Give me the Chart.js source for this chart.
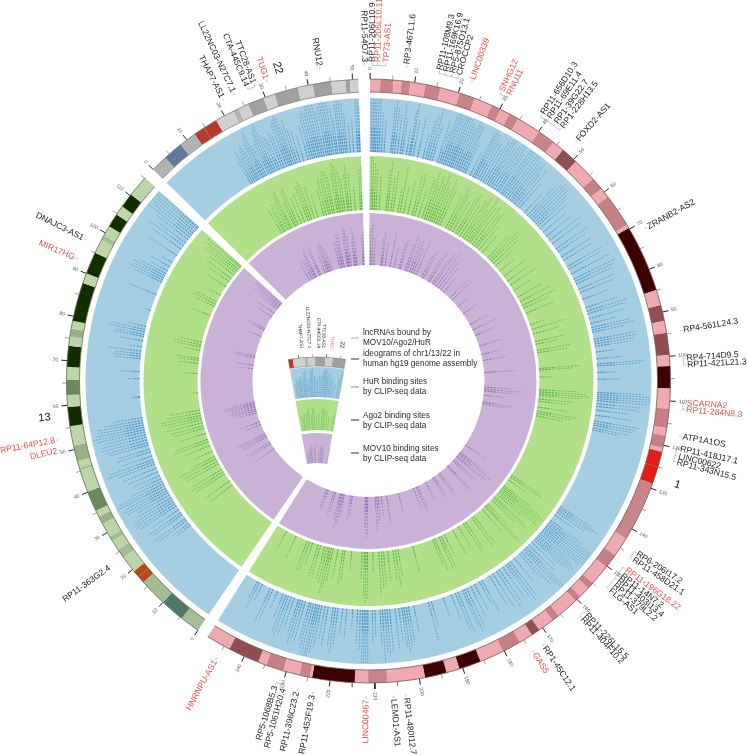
<!DOCTYPE html>
<html>
<head>
<meta charset="utf-8">
<title>lncRNA binding sites circos</title>
<script src="https://cdn.jsdelivr.net/npm/chart.js@4"></script>
<style>
    body { margin: 0; background: #fff; }
    #wrap { position: relative; width: 747px; height: 755px; overflow: hidden; }
    #wrap canvas { position: absolute; left: 0; top: 0; }
</style>
</head>
<body>
<div id="wrap">
    <canvas id="ringChart" width="747" height="755"></canvas>
    <canvas id="miniChart" width="747" height="755"></canvas>
    <canvas id="siteChart" width="747" height="755"></canvas>
</div>
<script>
// Chromosome lengths in Mb
const chrLengths = [249.25, 115.17, 51.3];

// Ideogram bands: band end in Mb and stain (n, 25, 50, 75, 100, a = acen, v = gvar, s = stalk)
const chr1Ends = [2.3,5.3,7.1,9.1,12.5,15.9,20.3,23.9,28,30.2,32.4,34.6,40.1,44.1,46.8,50.7,56.1,59,61.3,68.9,69.7,84.9,88.4,92,94.7,99.7,102.2,107.2,111.8,116.1,117.8,120.6,121.5,125,128.9,142.6,147,150.3,155,156.5,159.1,160.5,165.5,167.2,170.9,172.9,176,180.3,185.8,190.8,193.8,198.7,207.2,211.5,214.5,224.1,224.6,227,230.7,234.7,236.6,243.7,249.25];
const chr1Stains = ['n','25','n','25','n','25','n','25','n','25','n','25','n','25','n','75','n','50','n','50','n','100','n','75','n','75','n','100','n','50','n','50','n','a','a','v','n','50','n','50','n','50','n','50','n','75','n','50','n','100','n','100','n','25','n','100','n','25','n','50','n','75','n'];
const chr13Ends = [4.5,10,16.3,17.9,19.5,23.3,25.5,27.8,28.9,32.2,34,35.5,40.1,45.2,45.8,47.3,50.9,55.3,59.6,62.3,65.7,68.6,73.3,75.4,77.2,79,87.7,90,95,98.2,99.3,101.7,104.8,107,110.3,115.17];
const chr13Stains = ['v','s','v','a','a','n','25','n','25','n','50','n','75','n','25','n','50','n','100','n','75','n','100','n','50','n','100','n','100','n','25','n','100','n','100','n'];
const chr22Ends = [3.8,8.3,12.2,14.7,17.9,22.2,23.5,25.9,29.6,32.2,37.6,41,45.2,48.4,49.4,51.3];
const chr22Stains = ['v','s','v','a','a','n','25','n','50','n','50','n','50','n','50','n'];

// Binding sites as [position in Mb, stack height as a share of the track]
const hurChr1 = [[0.4,.95],[0.9,.95],[1.3,.9],[1.7,.95],[2.2,.8],[2.7,.9],[3.4,.6],[4.2,.5],[6.2,.7],[6.7,.85],[7.3,.7],[8.1,.6],[9,.75],[9.6,.55],[10.8,.4],[11.6,.7],[12,.8],[12.8,.55],[14.2,.6],[15.8,.4],[16.6,.6],[17.2,.7],[17.9,.8],[18.6,.55],[20.2,.65],[20.9,.5],[21.5,.8],[22.1,.9],[22.6,.85],[23.2,.8],[23.8,.85],[24.3,.9],[24.8,.8],[25.4,.85],[26,.75],[26.6,.7],[27.2,.85],[27.8,.8],[28.4,.75],[29,.5],[30.6,.4],[31.5,.75],[32,.8],[32.6,.75],[33.3,.7],[34,.65],[34.8,.6],[35.5,.75],[36.2,.8],[36.8,.85],[37.5,.7],[38.2,.75],[38.9,.8],[39.6,.85],[40.2,.7],[41,.8],[41.6,.9],[42.2,.8],[43,.85],[43.7,.8],[44.4,.75],[45,.7],[45.7,.75],[46.3,.6],[47.1,.7],[48,.5],[50,.4],[51.2,.6],[52,.7],[52.7,.75],[53.4,.7],[54.1,.75],[54.8,.65],[55.5,.6],[56.5,.55],[58,.45],[59.5,.5],[61,.6],[62.3,.55],[64.2,.6],[65.2,.5],[67,.55],[68.2,.5],[70.3,.6],[71.2,.55],[72.8,.65],[74.5,.7],[75.3,.65],[76.1,.6],[77.8,.6],[78.9,.55],[81,.4],[83.6,.5],[84.7,.65],[85.5,.6],[87,.55],[88.5,.4],[89.7,.6],[90.4,.65],[91.1,.5],[93.2,.65],[93.9,.65],[94.6,.6],[95.3,.55],[97,.3],[99,.4],[100.5,.7],[101.1,.65],[103,.3],[105,.35],[108.9,.7],[109.5,.8],[110.1,.85],[110.7,.8],[111.3,.75],[112.2,.7],[113,.65],[114.1,.5],[115.6,.55],[117.3,.7],[118,.65],[118.6,.6],[119.4,.55],[120,.4],[144.6,.6],[145.2,.7],[145.8,.6],[146.5,.5],[147.5,.35],[149.5,.6],[150.2,.8],[150.8,.85],[151.4,.9],[152,.85],[152.6,.8],[153.2,.85],[153.8,.75],[154.5,.6],[155.2,.7],[155.8,.75],[156.4,.7],[157,.6],[158,.5],[159.2,.55],[160.1,.8],[160.7,.8],[161.3,.7],[162.2,.65],[163,.5],[165,.45],[166.6,.65],[167.4,.7],[168.1,.6],[169.3,.55],[170.6,.6],[171.5,.65],[172.8,.6],[174,.5],[176.6,.55],[177.4,.4],[179,.45],[180.3,.5],[181.6,.65],[182.4,.7],[183,.6],[184.4,.65],[185.2,.6],[186.5,.4],[189,.3],[192.7,.4],[193.6,.6],[198,.4],[199.6,.55],[200.3,.6],[201,.7],[201.6,.6],[202.5,.5],[203.6,.6],[205.2,.65],[206,.7],[206.6,.65],[207.3,.8],[208,.55],[209.5,.4],[210.3,.5],[211.6,.8],[212.1,.9],[212.6,.85],[213.1,.85],[213.8,.6],[214.6,.5],[216,.3],[217.8,.45],[219,.4],[220.4,.6],[221.1,.7],[221.8,.6],[223.3,.6],[224.2,.5],[225.2,.65],[225.9,.75],[226.5,.8],[227,.85],[227.7,.75],[228.4,.7],[229,.6],[230.2,.65],[231,.6],[231.7,.7],[232.3,.55],[233.6,.5],[234.6,.6],[235.5,.65],[236.2,.6],[237.1,.4],[238.9,.3],[240.4,.5],[241.2,.55],[243.8,.3],[244.8,.45],[245.5,.3]];
const hurChr13 = [[19.6,.3],[20.3,.3],[21.4,.55],[22.1,.6],[23.5,.55],[24.2,.6],[25.3,.5],[26.6,.65],[27.3,.7],[28,.7],[28.7,.65],[29.5,.6],[30.4,.55],[31.2,.7],[31.9,.75],[32.6,.7],[33.4,.8],[34.1,.75],[34.9,.55],[35.8,.4],[36.8,.45],[38,.5],[39.2,.55],[40.5,.6],[41.2,.75],[41.9,.7],[43,.5],[44.3,.55],[45.1,.5],[46.4,.6],[47.1,.65],[47.9,.7],[48.7,.7],[49.5,.65],[50.3,.75],[51,.8],[51.7,.75],[52.4,.7],[53.1,.7],[53.8,.6],[54.6,.45],[60.6,.15],[60.9,.1],[66.1,.2],[68.2,.3],[72,.4],[72.7,.45],[73.4,.4],[74.2,.5],[75.5,.2],[77.3,.35],[78.6,.5],[79.2,.45],[80,.55],[80.7,.5],[81.6,.3],[86.5,.1],[91.5,.45],[95.5,.45],[96.2,.55],[96.9,.5],[97.6,.55],[98.3,.45],[99.2,.3],[100.6,.35],[102,.2],[104.5,.5],[106.8,.55],[108,.65],[109,.5],[110.2,.6],[111.1,.8],[111.9,.75],[112.6,.85],[113.3,.8],[114,.85],[114.6,.9],[115,.7]];
const hurChr22 = [[17.4,.4],[18,.55],[18.6,.45],[19.2,.55],[19.7,.6],[20.2,.5],[20.9,.6],[21.4,.7],[21.9,.75],[22.5,.5],[23.3,.55],[23.9,.7],[24.4,.75],[24.9,.8],[25.5,.6],[26.2,.55],[26.8,.5],[27.6,.6],[28.2,.55],[29,.7],[29.6,.75],[30.1,.8],[30.6,.75],[31.1,.6],[31.8,.7],[32.4,.55],[33.2,.5],[34.3,.4],[35.6,.55],[36.4,.7],[37,.75],[37.6,.7],[38.1,.8],[38.7,.85],[39.2,.8],[39.8,.85],[40.4,.7],[41.1,.75],[41.7,.9],[42.2,.95],[42.7,.9],[43.3,.8],[44,.7],[44.5,.55],[45.2,.75],[45.7,.9],[46.2,.8],[46.8,.75],[47.3,.6],[48.2,.45],[49.2,.5],[50.3,.8],[50.8,.85],[51.1,.7]];

const ago2Chr1 = [[0.6,.8],[1.2,.85],[1.9,.7],[2.6,.6],[3.8,.5],[6.5,.6],[7.2,.75],[8.4,.5],[9.3,.6],[11.2,.35],[12.1,.7],[13.5,.4],[15.2,.5],[17,.6],[18,.65],[19.5,.4],[21,.6],[22,.75],[22.8,.55],[23.6,.7],[24.4,.6],[25.1,.75],[25.9,.65],[26.8,.55],[27.7,.75],[28.6,.6],[31.2,.55],[32.2,.7],[33,.6],[34.2,.5],[35.6,.6],[36.5,.7],[37.6,.55],[38.8,.65],[39.7,.75],[40.6,.55],[41.5,.8],[42.4,.65],[43.5,.7],[44.6,.6],[45.5,.65],[46.8,.45],[48.5,.35],[51.5,.45],[52.6,.6],[53.5,.55],[54.6,.5],[56,.35],[58.5,.3],[61.2,.4],[63.5,.35],[65.5,.45],[68,.3],[71,.4],[73,.5],[74.8,.55],[76,.4],[78.2,.45],[83,.25],[84.9,.5],[86.8,.4],[89.9,.45],[91,.35],[93.4,.5],[94.4,.45],[100.6,.6],[101.2,.5],[104,.2],[109,.55],[109.8,.7],[110.5,.75],[111.2,.6],[112.6,.5],[113.5,.45],[115.8,.45],[117.5,.6],[118.3,.5],[119.3,.4],[144.8,.5],[145.6,.55],[147,.3],[149.8,.5],[150.5,.7],[151.2,.8],[151.8,.75],[152.5,.7],[153.3,.75],[154.2,.5],[155.5,.6],[156.2,.65],[157.2,.45],[159.5,.4],[160.4,.7],[161,.65],[162.5,.45],[166.8,.5],[167.8,.55],[170.8,.45],[171.8,.5],[174.2,.35],[176.8,.4],[180.5,.35],[181.9,.5],[182.8,.55],[184.6,.5],[185.5,.4],[193.8,.4],[199.8,.4],[200.8,.55],[201.8,.45],[203.9,.45],[205.5,.5],[206.4,.55],[207.4,.65],[209.7,.3],[211.8,.7],[212.4,.75],[213,.65],[214,.4],[218,.3],[220.7,.45],[221.5,.5],[223.5,.45],[225.4,.5],[226.2,.6],[226.9,.7],[227.8,.55],[228.8,.5],[230.5,.45],[231.5,.5],[233.8,.35],[235,.45],[236,.45],[240.8,.35],[245,.3]];
const ago2Chr13 = [[21.5,.4],[23.4,.45],[26.8,.5],[27.8,.55],[28.9,.5],[31.4,.55],[32.5,.55],[33.6,.6],[34.6,.4],[37,.3],[39.4,.4],[41,.55],[42,.5],[44.5,.4],[46.6,.45],[47.6,.5],[48.8,.55],[50,.5],[50.9,.6],[51.8,.6],[52.8,.5],[53.9,.45],[60.8,.1],[68.4,.2],[72.4,.3],[73.6,.3],[74.4,.35],[77.6,.25],[78.9,.4],[79.8,.4],[80.8,.35],[91.8,.3],[95.8,.3],[96.8,.4],[97.8,.35],[100.8,.2],[104.8,.35],[107.2,.4],[108.6,.45],[110.4,.45],[111.5,.6],[112.4,.55],[113.2,.65],[114.2,.65],[114.8,.5]];
const ago2Chr22 = [[17.8,.4],[18.8,.35],[19.5,.45],[20.6,.45],[21.5,.55],[22.2,.6],[23.5,.4],[24.2,.55],[25,.6],[26.4,.4],[27.8,.45],[29.2,.55],[30,.6],[30.8,.55],[32,.5],[33.4,.35],[35.8,.4],[36.8,.55],[37.8,.55],[38.5,.65],[39.4,.65],[40.1,.55],[41.3,.6],[42,.75],[42.6,.7],[43.5,.6],[44.3,.5],[45.4,.55],[46,.7],[46.9,.55],[48.4,.35],[50.4,.6],[51,.65]];

const mov10Chr1 = [[0.7,.55],[1.6,.6],[2.8,.4],[6.8,.4],[7.5,.5],[9.2,.35],[12.2,.5],[14.5,.3],[17.4,.4],[18.3,.45],[21.2,.4],[22.2,.55],[23.8,.5],[25,.5],[26.2,.4],[27.9,.55],[31.6,.4],[32.8,.45],[35.8,.4],[36.8,.5],[38.9,.45],[40,.55],[41.6,.6],[43.2,.5],[44.8,.4],[47,.3],[52,.35],[53.7,.4],[58.8,.2],[64,.25],[71.4,.3],[74.9,.4],[78.4,.3],[85,.35],[90,.3],[93.6,.35],[100.7,.45],[109.2,.4],[110.4,.55],[111.4,.45],[113.7,.3],[117.6,.45],[118.7,.35],[145,.35],[149.9,.35],[150.7,.5],[151.5,.6],[152.7,.55],[153.5,.5],[155.6,.45],[156.6,.4],[160.5,.5],[161.2,.45],[166.9,.35],[168,.4],[171,.3],[172,.35],[176.9,.3],[182,.35],[183,.4],[184.8,.35],[193.9,.3],[200.9,.4],[204,.3],[205.7,.35],[206.6,.4],[207.5,.5],[211.9,.55],[212.6,.6],[213.2,.45],[220.8,.3],[221.7,.35],[225.5,.35],[226.4,.45],[227.1,.5],[228,.4],[230.7,.3],[231.7,.35],[235.2,.3],[236.2,.3]];
const mov10Chr13 = [[23.6,.3],[27,.35],[28.1,.4],[31.6,.4],[32.7,.4],[33.8,.45],[39.6,.25],[41.2,.35],[46.8,.3],[48,.35],[49,.4],[50.2,.35],[51.1,.45],[52,.45],[53,.35],[72.6,.2],[74.6,.25],[79,.3],[80,.3],[91.9,.2],[96,.2],[97,.3],[104.9,.25],[107.4,.3],[110.5,.3],[111.6,.45],[112.6,.4],[113.4,.5],[114.3,.5]];
const mov10Chr22 = [[18,.3],[19.6,.3],[20.7,.3],[21.6,.4],[22.3,.45],[24.3,.4],[25.1,.45],[27.9,.3],[29.3,.4],[30.2,.45],[31,.4],[32.1,.35],[36.9,.4],[37.9,.4],[38.6,.5],[39.5,.5],[41.4,.45],[42.1,.6],[42.7,.55],[43.6,.45],[45.5,.4],[46.1,.55],[47,.4],[50.5,.45],[51,.5]];

// lncRNA labels and the Mb position each one is pinned to
const chr1Names = ['RP11-206L10.9','RP11-206L10.11','TP73-AS1','RP3-467L1.6','RP11-108M9.3','RP11-169K16.9','RP5-875O13.1','CROCCP2','LINC00339','SNHG12','RNU11','RP11-656D10.3','RP11-69E11.4','RP1-39G22.7','RP1-228H13.5','FOXD2-AS1','ZRANB2-AS2','RP4-561L24.3','RP4-714D9.5','RP11-421L21.3','SCARNA2','RP11-284N8.3','ATP1A1OS','RP11-418J17.1','LINC00622','RP11-343N15.5','RP6-206I17.2','RP11-458D21.1','RP11-196G18.22','RP11-14N7.2','RP11-403I13.4','RP11-379L2.2','FLG-AS1','RP11-226L15.5','RP11-404F10.2','RP1-45C12.1','GAS5','RP11-480I12.7','LEMD1-AS1','LINC00467','RP11-452F19.3','RP11-396C23.2','RP5-1061H20.4','RP5-1068B5.3','HNRNPU-AS1'];
const chr1NamePos = [0.4,1.6,3.4,7.8,14.8,16.2,17.6,19.1,22.1,28.7,30.4,38.6,40.2,42,43.6,47.9,71.6,94.7,100.7,102.1,110.2,111.6,117.4,120,121.6,122.9,144,145.5,148.1,149.6,150.9,152.2,153.6,160.8,162,172,174.5,203.4,206.1,211.9,223.3,226.7,229.6,231.4,245.2];
const chr13Names = ['RP11-363G2.4','DLEU2','RP11-64P12.8','MIR17HG','DNAJC3-AS1'];
const chr13NamePos = [23.4,50.5,52.8,92.2,96.7];
const chr22Names = ['THAP7-AS1','LL22NC03-N27C7.1','CTA-445C9.14','TTC28-AS1','TUG1','RNU12','RP11-54O7.3'];
const chr22NamePos = [21.4,24,27.1,28.7,31.5,43.1,52.7];
const redNames = ['RP11-206L10.11','TP73-AS1','LINC00339','SNHG12','RNU11','SCARNA2','RP11-284N8.3','RP11-196G18.22','GAS5','LINC00467','HNRNPU-AS1','DLEU2','RP11-64P12.8','MIR17HG','TUG1'];

const chrTitles = ['1', '13', '22'];
const chrTitlePos = [127.4, 57.8, 34.5];

const legendLines = [
    ['lncRNAs bound by', 'MOV10/Ago2/HuR'],
    ['ideograms of chr1/13/22 in', 'human hg19 genome assembly'],
    ['HuR binding sites', 'by CLIP-seq data'],
    ['Ago2 binding sites', 'by CLIP-seq data'],
    ['MOV10 binding sites', 'by CLIP-seq data']
];

// Layout
const WIDTH = 747, HEIGHT = 755;
const CX = 368.5, CY = 381;
const GAP_MB = 2.6, ROTATION = 0.3;
const TOTAL_MB = chrLengths[0] + chrLengths[1] + chrLengths[2] + 3 * GAP_MB;
const DEG_PER_MB = 360 / TOTAL_MB;
const TRACKS = [[229, 283], [171, 225], [116, 168]];
const STRETCH = [1.22, 1.25, 1.3];
const INNER_SHARE = 0.4;
const MINI_CX = -51.5, MINI_CY = -138;
const MINI_FROM = 16.2, MINI_TO = 37, MINI_ROT = -10.3, MINI_DEG = 0.99;
const MINI_TRACKS = [[122, 152], [89, 120], [56, 86]];

const STAINS = [
    { n: '#eeaab0', '25': '#c98489', '50': '#c78186', '75': '#8f4e52', '100': '#3c0000', a: '#e01e16', v: '#c8858a', s: '#c8858a' },
    { n: '#bdd6a8', '25': '#a3bc8f', '50': '#98b186', '75': '#6a8a5a', '100': '#122e00', a: '#b84a14', v: '#a5bd92', s: '#4d7a6a' },
    { n: '#d0d0d0', '25': '#b4b4b4', '50': '#a0a0a0', '75': '#888888', '100': '#555555', a: '#b83a2c', v: '#b2b2b2', s: '#60789a' }
];
const OUTLINES = ['#7d5558', '#5e6e50', '#7c7c7c'];

// Angle in degrees, clockwise from the top, for a position on a chromosome
function chrAngle(chr, pos) {
    let offset = 0;
    for (let i = 0; i < chr; i++) offset += chrLengths[i] + GAP_MB;
    return ROTATION + (offset + pos) * DEG_PER_MB;
}

function miniAngle(pos) {
    return MINI_ROT + (pos - MINI_FROM) * MINI_DEG;
}

// Data space has its origin at the circle centre with y pointing up
function polar(angle, r, cx = 0, cy = 0) {
    const a = angle * Math.PI / 180;
    return { x: cx + r * Math.sin(a), y: cy + r * Math.cos(a) };
}

// Band lengths and colours for the whole ideogram ring
function buildIdeogram() {
    const allEnds = [chr1Ends, chr13Ends, chr22Ends];
    const allStains = [chr1Stains, chr13Stains, chr22Stains];
    const data = [], colors = [];
    allEnds.forEach((ends, chr) => {
        ends.forEach((end, i) => {
            data.push(end - (i ? ends[i - 1] : 0));
            colors.push(STAINS[chr][allStains[chr][i]]);
        });
        data.push(GAP_MB);
        colors.push('transparent');
    });
    return { data: data, backgroundColor: colors, weight: 13 };
}

function buildTrack(color, weight) {
    const data = [], colors = [];
    chrLengths.forEach(len => {
        data.push(len, GAP_MB);
        colors.push(color, 'transparent');
    });
    return { data: data, backgroundColor: colors, weight: weight };
}

function spacer(weight) {
    return { data: [1], backgroundColor: ['transparent'], weight: weight };
}

// Outer rings: ideogram and the three coloured track backgrounds
new Chart(document.getElementById('ringChart'), {
    type: 'doughnut',
    data: {
        datasets: [
            buildIdeogram(),
            spacer(6),
            buildTrack('#a6cee3', 54),
            spacer(4),
            buildTrack('#b2df8a', 54),
            spacer(3),
            buildTrack('#cab2d6', 52)
        ]
    },
    options: {
        responsive: false,
        animation: false,
        events: [],
        rotation: ROTATION,
        cutout: (116 / 302 * 100) + '%',
        borderWidth: 0,
        layout: { padding: { left: CX - 302, top: CY - 302, right: WIDTH - CX - 302, bottom: HEIGHT - CY - 302 } },
        plugins: { legend: { display: false }, tooltip: { enabled: false } }
    }
});

// The small key in the middle is a zoomed wedge of chr22
function buildMiniIdeogram() {
    const data = [], colors = [];
    chr22Ends.forEach((end, i) => {
        const start = Math.max(i ? chr22Ends[i - 1] : 0, MINI_FROM);
        const stop = Math.min(end, MINI_TO);
        if (stop > start) {
            data.push((stop - start) * MINI_DEG);
            colors.push(STAINS[2][chr22Stains[i]]);
        }
    });
    data.push(360 - (MINI_TO - MINI_FROM) * MINI_DEG);
    colors.push('transparent');
    return { data: data, backgroundColor: colors, weight: 9 };
}

function buildMiniTrack(color, weight) {
    const span = (MINI_TO - MINI_FROM) * MINI_DEG;
    return { data: [span, 360 - span], backgroundColor: [color, 'transparent'], weight: weight };
}

new Chart(document.getElementById('miniChart'), {
    type: 'doughnut',
    data: {
        datasets: [
            buildMiniIdeogram(),
            spacer(1),
            buildMiniTrack('#a6cee3', 30),
            spacer(2),
            buildMiniTrack('#b2df8a', 31),
            spacer(3),
            buildMiniTrack('#cab2d6', 30)
        ]
    },
    options: {
        responsive: false,
        animation: false,
        events: [],
        rotation: MINI_ROT,
        cutout: (56 / 162 * 100) + '%',
        borderWidth: 0,
        layout: { padding: { left: CX + MINI_CX - 162, top: CY - MINI_CY - 162, right: WIDTH - (CX + MINI_CX) - 162, bottom: HEIGHT - (CY - MINI_CY) - 162 } },
        plugins: { legend: { display: false }, tooltip: { enabled: false } }
    }
});

// Radial dashed stacks for one track, each site broken off from the next by a null point
function sitePoints(lists, track, stretch) {
    const points = [];
    lists.forEach((sites, chr) => {
        sites.forEach(([pos, h]) => {
            const angle = chrAngle(chr, pos);
            const share = Math.min(h * stretch, 0.98);
            points.push(polar(angle, track[0]), polar(angle, track[0] + share * (track[1] - track[0])), { x: null, y: null });
        });
    });
    return points;
}

function miniPoints(sites, track, stretch) {
    const points = [];
    sites.filter(s => s[0] >= MINI_FROM && s[0] <= MINI_TO).forEach(([pos, h]) => {
        const angle = miniAngle(pos);
        const share = Math.min(h * stretch, 0.98);
        points.push(polar(angle, track[0], MINI_CX, MINI_CY), polar(angle, track[0] + share * (track[1] - track[0]), MINI_CX, MINI_CY), { x: null, y: null });
    });
    return points;
}

function tickPoints(step, offset, inner, outer) {
    const points = [];
    chrLengths.forEach((len, chr) => {
        for (let pos = offset; pos <= len; pos += step) {
            const angle = chrAngle(chr, pos);
            points.push(polar(angle, inner), polar(angle, outer), { x: null, y: null });
        }
    });
    return points;
}

function lineSet(points, color, width, dash) {
    return {
        data: points,
        showLine: true,
        spanGaps: false,
        pointRadius: 0,
        borderColor: color,
        borderWidth: width,
        borderDash: dash || [],
        borderCapStyle: 'butt',
        clip: false
    };
}

const DASH = [2.1, 1.1], MINI_DASH = [1.2, 0.6];
const BLUE = 'rgba(31,120,180,0.5)', GREEN = 'rgba(51,160,44,0.5)', PURPLE = 'rgba(106,61,154,0.42)';

const hurSites = [hurChr1, hurChr13, hurChr22];
const ago2Sites = [ago2Chr1, ago2Chr13, ago2Chr22];
const mov10Sites = [mov10Chr1, mov10Chr13, mov10Chr22];

const siteSets = [
    lineSet(sitePoints(hurSites, TRACKS[0], STRETCH[0]), BLUE, 0.9, DASH),
    lineSet(sitePoints(hurSites, TRACKS[0], STRETCH[0] * INNER_SHARE), BLUE, 0.9, DASH),
    lineSet(sitePoints(ago2Sites, TRACKS[1], STRETCH[1]), GREEN, 0.9, DASH),
    lineSet(sitePoints(ago2Sites, TRACKS[1], STRETCH[1] * INNER_SHARE), GREEN, 0.9, DASH),
    lineSet(sitePoints(mov10Sites, TRACKS[2], STRETCH[2]), PURPLE, 0.8, DASH),
    lineSet(sitePoints(mov10Sites, TRACKS[2], STRETCH[2] * INNER_SHARE), PURPLE, 0.8, DASH),
    lineSet(miniPoints(hurChr22, MINI_TRACKS[0], STRETCH[0]), BLUE, 0.8, MINI_DASH),
    lineSet(miniPoints(ago2Chr22, MINI_TRACKS[1], STRETCH[1]), GREEN, 0.8, MINI_DASH),
    lineSet(miniPoints(mov10Chr22, MINI_TRACKS[2], STRETCH[2]), PURPLE, 0.7, MINI_DASH),
    lineSet(tickPoints(10, 0, 302, 308), '#222', 1),
    lineSet(tickPoints(10, 5, 302, 306.5), '#777', 0.7)
];

// Text written along a radius, reading outwards on the right half and inwards on the left
function radialText(ctx, text, angle, r, cx, cy, font, color, align) {
    const a = angle * Math.PI / 180;
    const right = ((angle % 360) + 360) % 360 < 180;
    ctx.save();
    ctx.translate(cx + r * Math.sin(a), cy - r * Math.cos(a));
    ctx.rotate(right ? a - Math.PI / 2 : a + Math.PI / 2);
    ctx.font = font;
    ctx.fillStyle = color;
    ctx.textBaseline = 'middle';
    ctx.textAlign = align || (right ? 'left' : 'right');
    ctx.fillText(text, 0, 0);
    ctx.restore();
}

function drawNames(ctx, cx, cy, names, positions, chr) {
    let prev = null;
    names.forEach((name, i) => {
        const angle = chrAngle(chr, positions[i]);
        const a = angle * Math.PI / 180;
        const color = redNames.includes(name) ? '#ea4f45' : '#1c1c1c';
        radialText(ctx, name, angle, 319, cx, cy, '8.6px "Liberation Sans"', color);
        // little connector in front of the name, joined up inside a tight group
        ctx.strokeStyle = '#8a8a8a';
        ctx.lineWidth = 0.5;
        ctx.beginPath();
        ctx.moveTo(cx + 315.5 * Math.sin(a), cy - 315.5 * Math.cos(a));
        ctx.lineTo(cx + 318 * Math.sin(a), cy - 318 * Math.cos(a));
        ctx.stroke();
        if (prev !== null && angle - prev < 1.7) {
            ctx.beginPath();
            ctx.arc(cx, cy, 315.5, (prev - 90) * Math.PI / 180, (angle - 90) * Math.PI / 180);
            ctx.stroke();
        }
        prev = angle;
    });
}

function drawOutlines(ctx, cx, cy) {
    chrLengths.forEach((len, chr) => {
        const from = (chrAngle(chr, 0) - 90) * Math.PI / 180;
        const to = (chrAngle(chr, len) - 90) * Math.PI / 180;
        ctx.strokeStyle = OUTLINES[chr];
        ctx.lineWidth = 0.8;
        [302, 289].forEach(r => {
            ctx.beginPath();
            ctx.arc(cx, cy, r, from, to);
            ctx.stroke();
        });
    });
}

function drawMini(ctx, cx, cy) {
    const mx = cx + MINI_CX, my = cy - MINI_CY;
    const from = (miniAngle(MINI_FROM) - 90) * Math.PI / 180;
    const to = (miniAngle(MINI_TO) - 90) * Math.PI / 180;
    ctx.strokeStyle = OUTLINES[2];
    ctx.lineWidth = 0.6;
    [162, 153].forEach(r => {
        ctx.beginPath();
        ctx.arc(mx, my, r, from, to);
        ctx.stroke();
    });
    [20, 25, 30, 35].forEach(pos => {
        const a = miniAngle(pos) * Math.PI / 180;
        ctx.beginPath();
        ctx.strokeStyle = pos % 10 ? '#888' : '#222';
        ctx.moveTo(mx + 162 * Math.sin(a), my - 162 * Math.cos(a));
        ctx.lineTo(mx + 165 * Math.sin(a), my - 165 * Math.cos(a));
        ctx.stroke();
    });
    chr22Names.slice(0, 5).forEach((name, i) => {
        const a = miniAngle(chr22NamePos[i]) * Math.PI / 180;
        ctx.save();
        ctx.translate(mx + 171 * Math.sin(a), my - 171 * Math.cos(a));
        ctx.rotate(a + Math.PI / 2);
        ctx.font = '4.6px "Liberation Sans"';
        ctx.fillStyle = redNames.includes(name) ? '#ea4f45' : '#1c1c1c';
        ctx.textBaseline = 'middle';
        ctx.textAlign = 'right';
        ctx.fillText(name, 0, 0);
        ctx.restore();
    });
    const titleAngle = 8.2 * Math.PI / 180;
    ctx.save();
    ctx.translate(mx + 176 * Math.sin(titleAngle), my - 176 * Math.cos(titleAngle));
    ctx.rotate(titleAngle + Math.PI / 2);
    ctx.font = '6px "Liberation Sans"';
    ctx.fillStyle = '#1c1c1c';
    ctx.textBaseline = 'middle';
    ctx.textAlign = 'center';
    ctx.fillText(chrTitles[2], 0, 0);
    ctx.restore();
}

function drawLegend(ctx) {
    const tickY = [338, 359, 387, 420, 453];
    const tickColor = ['#aaa', '#333', '#888', '#333', '#333'];
    const textY = [333, 354, 382, 416, 449];
    legendLines.forEach((lines, i) => {
        ctx.strokeStyle = tickColor[i];
        ctx.lineWidth = 1;
        ctx.beginPath();
        ctx.moveTo(351, tickY[i]);
        ctx.lineTo(359, tickY[i]);
        ctx.stroke();
        ctx.font = '8.2px "Liberation Sans"';
        ctx.fillStyle = '#2b2b2b';
        ctx.textBaseline = 'middle';
        ctx.textAlign = 'left';
        lines.forEach((line, j) => ctx.fillText(line, 363, textY[i] + j * 9.4));
    });
}

// Everything that is text or outline goes on top of the site chart
const annotations = {
    id: 'annotations',
    afterDatasetsDraw(chart) {
        const ctx = chart.ctx;
        const cx = chart.scales.x.getPixelForValue(0);
        const cy = chart.scales.y.getPixelForValue(0);
        ctx.save();
        drawOutlines(ctx, cx, cy);
        chrLengths.forEach((len, chr) => {
            for (let pos = 0; pos <= len; pos += 10) {
                radialText(ctx, String(pos), chrAngle(chr, pos), 311, cx, cy, '5px "Liberation Sans"', '#555');
            }
            radialText(ctx, chrTitles[chr], chrAngle(chr, chrTitlePos[chr]), 326, cx, cy, '11px "Liberation Sans"', '#111', 'center');
        });
        drawNames(ctx, cx, cy, chr1Names, chr1NamePos, 0);
        drawNames(ctx, cx, cy, chr13Names, chr13NamePos, 1);
        drawNames(ctx, cx, cy, chr22Names, chr22NamePos, 2);
        drawMini(ctx, cx, cy);
        drawLegend(ctx);
        ctx.restore();
    }
};

new Chart(document.getElementById('siteChart'), {
    type: 'scatter',
    data: { datasets: siteSets },
    plugins: [annotations],
    options: {
        responsive: false,
        animation: false,
        events: [],
        layout: { padding: 0 },
        scales: {
            x: { type: 'linear', display: false, min: -CX, max: WIDTH - CX },
            y: { type: 'linear', display: false, min: CY - HEIGHT, max: CY }
        },
        plugins: { legend: { display: false }, tooltip: { enabled: false } }
    }
});
</script>
</body>
</html>
